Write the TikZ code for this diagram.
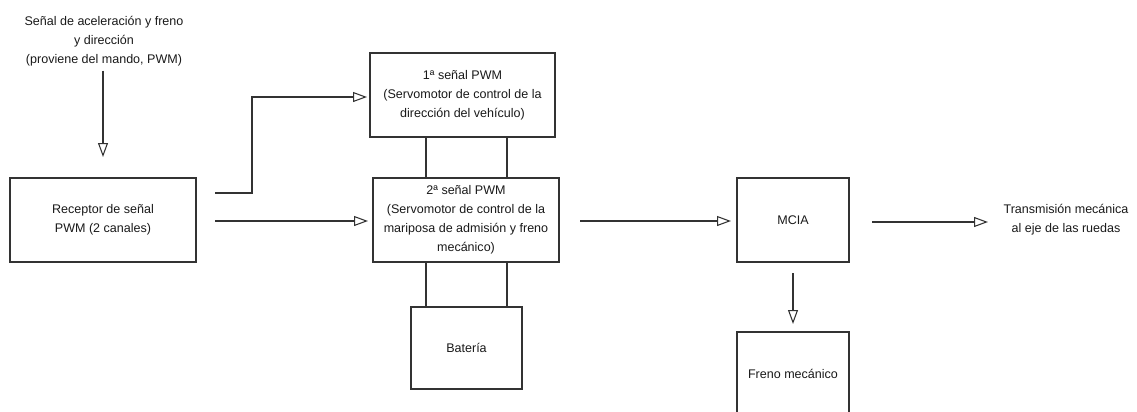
\documentclass[tikz,border=0pt]{standalone}
\usepackage{fontspec}
\setmainfont{Liberation Sans}
\usetikzlibrary{arrows.meta}

\begin{document}
\begin{tikzpicture}[x=0.75pt,y=-0.75pt,
    every node/.style={font=\fontsize{9.4}{14.25}\selectfont, text=black!90, align=center},
    block/.style={draw=black!80, line width=0.8pt, inner sep=0pt, minimum height=63pt},
    sig/.style={draw=black!80, line width=0.8pt, -{Triangle[open,length=10.5pt,width=7.5pt]}},
    wire/.style={draw=black!80, line width=0.8pt}]
  \useasboundingbox (0,0) rectangle (1137,411);
  \clip (0,0) rectangle (1137,411);

  % blocks
  \node[block, minimum width=139.5pt] (recv) at (103,220) {Receptor de señal\\PWM (2 canales)};
  \node[block, minimum width=138.75pt] (pwmA) at (462.5,95) {1ª señal PWM\\(Servomotor de control de la\\dirección del vehículo)};
  \node[block, minimum width=139.5pt] (pwmB) at (466,220) {2ª señal PWM\\(Servomotor de control de la\\mariposa de admisión y freno\\mecánico)};
  \node[block, minimum width=83.25pt, minimum height=61.5pt] (bat) at (466.5,348) {Batería};
  \node[block, minimum width=84pt] (mcia) at (793,220) {MCIA};
  \node[block, minimum width=84pt] (freno) at (793,374) {Freno mecánico};

  % texts
  \node (src) at (104,41) {Señal de aceleración y freno\\y dirección\\(proviene del mando, PWM)};
  \node (trans) at (1066,220) {Transmisión mecánica\\al eje de las ruedas};

  % arrows
  \coordinate (a1) at (103,157);
  \draw[sig] (src.south -| a1) -- (a1);
  \coordinate (s2) at (215,193);
  \coordinate (k2) at (252,0);
  \coordinate (e2) at (367,97);
  \draw[sig] (s2) -| (k2 |- e2) -- (e2);
  \coordinate (s3) at (215,221);
  \coordinate (e3) at (368,221);
  \draw[sig] (s3) -- (e3);
  \coordinate (s4) at (580,221);
  \coordinate (e4) at (731,221);
  \draw[sig] (s4) -- (e4);
  \coordinate (s5) at (872,222);
  \coordinate (e5) at (988,222);
  \draw[sig] (s5) -- (e5);
  \coordinate (s6) at (793,273);
  \coordinate (e6) at (793,324);
  \draw[sig] (s6) -- (e6);

  % wires
  \coordinate (l1) at (426,0);
  \coordinate (l2) at (507,0);
  \foreach \l in {l1,l2} {
    \draw[wire] (pwmA.south -| \l) -- (pwmB.north -| \l);
    \draw[wire] (pwmB.south -| \l) -- (bat.north -| \l);
  }
\end{tikzpicture}
\end{document}
